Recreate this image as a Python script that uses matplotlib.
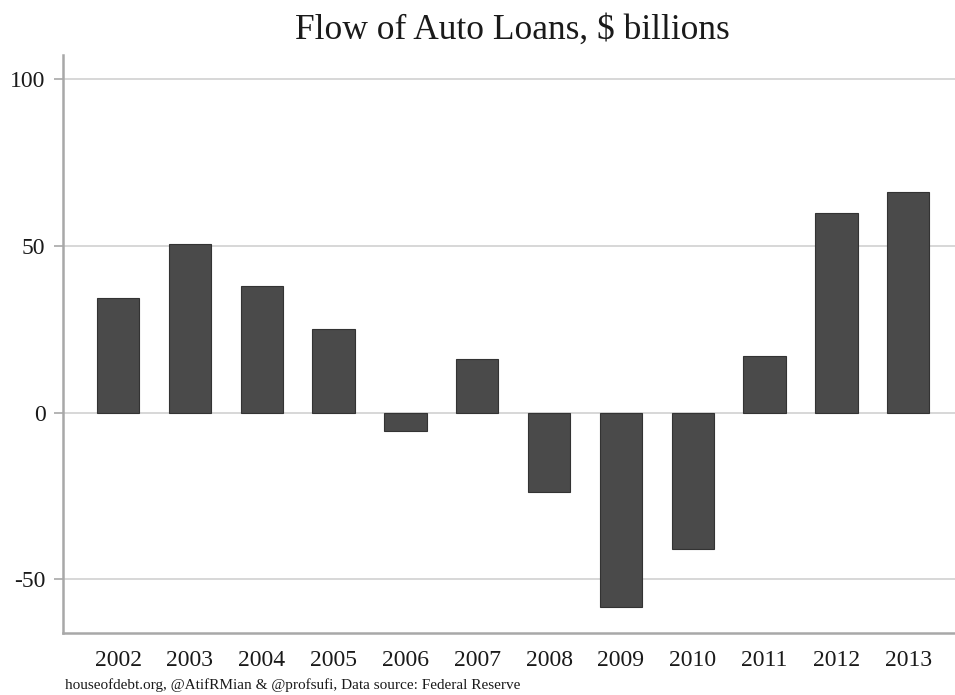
import numpy as np
import matplotlib
matplotlib.use("Agg")
import matplotlib.pyplot as plt

# flow of auto loans, $ billions
years = ["2002", "2003", "2004", "2005", "2006", "2007",
         "2008", "2009", "2010", "2011", "2012", "2013"]
flow = [34.5, 50.5, 38.0, 25.0, -5.4, 16.0,
        -23.9, -58.2, -41.0, 17.0, 59.8, 66.3]
yticks = [-50, 0, 50, 100]

plt.rcParams["font.family"] = ["Liberation Serif", "DejaVu Serif"]

fig = plt.figure(figsize=(9.55, 6.95), dpi=100)
ax = fig.add_axes([0.0657, 0.0888, 0.9343, 0.8321])

x = np.arange(len(years))
ax.bar(x, flow, width=0.59, color="#4a4a4a", edgecolor="#333333",
       linewidth=0.8, zorder=3)

ax.set_xlim(-0.77, 11.65)
ax.set_ylim(-66.2, 107.3)
ax.set_yticks(yticks)
ax.set_yticklabels([str(v) for v in yticks])
ax.set_xticks(x)
ax.set_xticklabels(years)

ax.yaxis.grid(True, color="#d4d4d4", linewidth=1.3, zorder=0)
ax.set_axisbelow(True)

for side in ["top", "right"]:
    ax.spines[side].set_visible(False)
for side in ["left", "bottom"]:
    ax.spines[side].set_color("#a8a8a8")
    ax.spines[side].set_linewidth(1.8)

ax.tick_params(axis="y", length=6.5, width=1.2, color="#a8a8a8", pad=6,
               labelsize=17, labelcolor="#1a1a1a")
ax.tick_params(axis="x", length=0, pad=12, labelsize=17, labelcolor="#1a1a1a")

fig.text(0.537, 0.957, "Flow of Auto Loans, $ billions", ha="center",
         va="center", fontsize=25.5, color="#1a1a1a")
fig.text(0.068, 0.004, "houseofdebt.org, @AtifRMian & @profsufi, Data source: Federal Reserve",
         ha="left", va="bottom", fontsize=11, color="#1a1a1a")

fig.savefig("out.png", dpi=100)
